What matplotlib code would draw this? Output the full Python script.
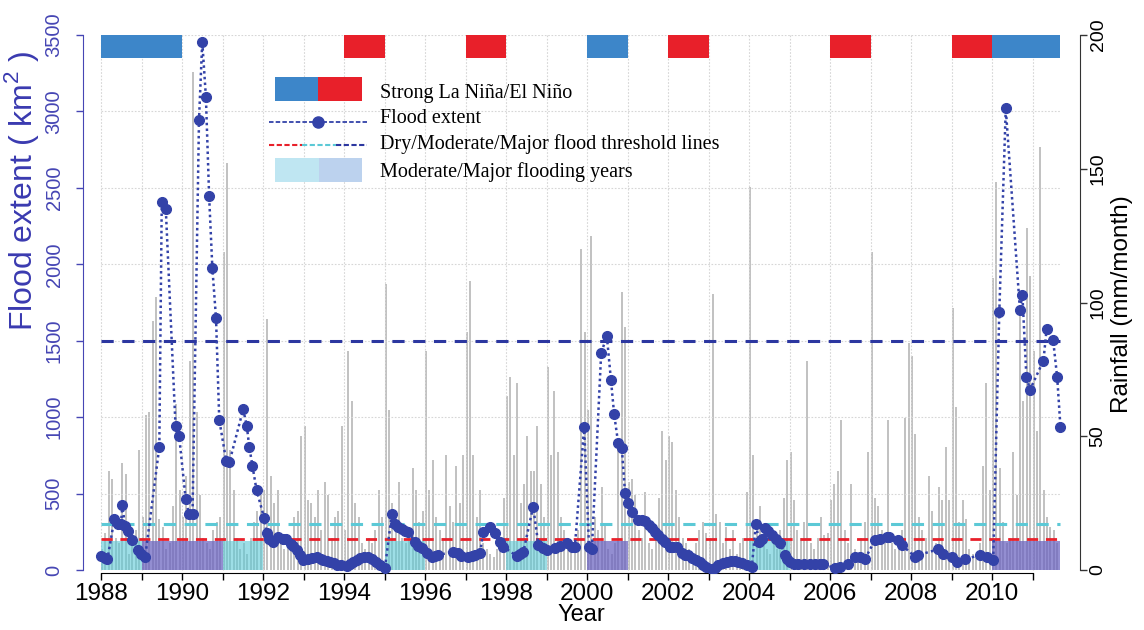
import matplotlib
matplotlib.use('Agg')
import matplotlib.pyplot as plt
import numpy as np

plt.rcParams['font.family'] = 'Liberation Sans'
plt.rcParams['mathtext.fontset'] = 'custom'
plt.rcParams['mathtext.rm'] = 'Liberation Sans'

# monthly rainfall (mm/month), one row per year, Jan 1988 .. Aug 2011
rain_mm = [
    8, 14, 37, 34, 12, 10, 40, 36, 6, 10, 15, 45,        # 1988
    20, 58, 59, 93, 102, 19, 16, 8, 10, 24, 62, 30,      # 1989
    20, 35, 78, 186, 59, 28, 12, 10, 8, 15, 18, 20,      # 1990
    119, 152, 45, 30, 12, 8, 10, 6, 12, 18, 22, 28,      # 1991
    30, 94, 35, 25, 30, 12, 8, 10, 9, 20, 22, 50,        # 1992
    54, 26, 25, 20, 30, 15, 33, 28, 12, 20, 22, 54,      # 1993
    15, 82, 63, 25, 20, 10, 8, 12, 10, 15, 30, 20,       # 1994
    107, 60, 25, 20, 33, 12, 10, 15, 38, 30, 18, 22,     # 1995
    82, 30, 41, 20, 15, 12, 43, 24, 18, 39, 25, 43,      # 1996
    89, 108, 43, 20, 30, 10, 8, 6, 5, 8, 12, 27,         # 1997
    65, 72, 43, 70, 25, 32, 50, 37, 37, 54, 32, 20,      # 1998
    76, 43, 67, 44, 20, 15, 12, 10, 8, 15, 120, 89,      # 1999
    60, 125, 20, 15, 31, 17, 8, 6, 10, 46, 104, 91,      # 2000
    33, 34, 28, 15, 12, 29, 10, 8, 15, 27, 52, 41,       # 2001
    50, 48, 30, 20, 12, 10, 8, 6, 10, 15, 18, 14,        # 2002
    12, 103, 21, 18, 10, 16, 8, 15, 6, 10, 12, 29,       # 2003
    143, 43, 15, 24, 12, 8, 6, 10, 8, 15, 27, 41,        # 2004
    44, 26, 15, 12, 18, 78, 10, 8, 12, 20, 13, 14,       # 2005
    26, 32, 37, 56, 15, 10, 32, 8, 6, 12, 18, 44,        # 2006
    119, 27, 24, 15, 12, 56, 10, 8, 12, 15, 57, 85,      # 2007
    80, 51, 20, 15, 12, 35, 22, 10, 31, 26, 46, 26,      # 2008
    98, 61, 18, 26, 19, 8, 6, 5, 10, 39, 70, 30,         # 2009
    109, 145, 38, 18, 10, 12, 44, 28, 98, 63, 128, 110,  # 2010
    82, 52, 158, 30, 20, 16, 15, 10,                     # 2011
]
rain_start = 1988

# flood extent observations: decimal year and area (km2)
flood_year = [
    1988.00, 1988.09, 1988.16, 1988.33, 1988.41, 1988.49, 1988.53, 1988.59, 1988.67, 1988.76, 1988.91, 1988.99,
    1989.09, 1989.44, 1989.50, 1989.60, 1989.84, 1989.93,
    1990.09, 1990.17, 1990.26, 1990.42, 1990.50, 1990.59, 1990.67, 1990.75, 1990.84, 1990.92,
    1991.09, 1991.17, 1991.51, 1991.60, 1991.66, 1991.74, 1991.84,
    1992.03, 1992.09, 1992.16, 1992.25, 1992.38, 1992.50, 1992.58, 1992.70, 1992.75, 1992.85, 1992.92, 1992.99,
    1993.10, 1993.20, 1993.33, 1993.42, 1993.49, 1993.57, 1993.65, 1993.75, 1993.82, 1993.92,
    1994.07, 1994.15, 1994.23, 1994.32, 1994.40, 1994.50, 1994.60, 1994.70, 1994.80, 1994.90,
    1995.01, 1995.18, 1995.26, 1995.34, 1995.42, 1995.50, 1995.59, 1995.75, 1995.83, 1995.92,
    1996.05, 1996.17, 1996.25, 1996.33, 1996.70, 1996.82, 1996.90,
    1997.07, 1997.15, 1997.23, 1997.36, 1997.44, 1997.60, 1997.73, 1997.85, 1997.93,
    1998.26, 1998.35, 1998.43, 1998.67, 1998.80, 1998.92,
    1999.00, 1999.21, 1999.33, 1999.50, 1999.62, 1999.70, 1999.93,
    2000.05, 2000.12, 2000.35, 2000.49, 2000.59, 2000.67, 2000.77, 2000.86, 2000.94,
    2001.02, 2001.10, 2001.27, 2001.35, 2001.43, 2001.52, 2001.60, 2001.68, 2001.76, 2001.85, 2001.93,
    2002.05, 2002.13, 2002.21, 2002.34, 2002.42, 2002.50, 2002.60, 2002.70, 2002.78, 2002.87, 2002.95,
    2003.08, 2003.16, 2003.24, 2003.35, 2003.45, 2003.55, 2003.65, 2003.74, 2003.82, 2003.95,
    2004.07, 2004.17, 2004.25, 2004.32, 2004.40, 2004.48, 2004.56, 2004.66, 2004.77, 2004.89, 2004.95,
    2005.01, 2005.10, 2005.22, 2005.35, 2005.51, 2005.62, 2005.75, 2005.83,
    2006.12, 2006.25, 2006.45, 2006.62, 2006.74, 2006.86,
    2007.11, 2007.23, 2007.40, 2007.45, 2007.69, 2007.77,
    2008.10, 2008.18, 2008.67, 2008.80,
    2009.00, 2009.13, 2009.33, 2009.70, 2009.87,
    2010.03, 2010.18, 2010.34, 2010.69, 2010.75, 2010.85, 2010.94,
    2011.27, 2011.35, 2011.51, 2011.61, 2011.69,
]
flood_km2 = [
    94, 80, 72, 333, 299, 299, 424, 288, 254, 197, 128, 106,
    83, 805, 2406, 2360, 943, 875,
    465, 367, 367, 2947, 3457, 3095, 2444, 1973, 1647, 982,
    716, 705, 1051, 943, 807, 680, 523,
    340, 240, 200, 185, 214, 205, 200, 170, 157, 131, 100, 65,
    70, 76, 87, 72, 65, 60, 54, 45, 33, 30,
    26, 40, 54, 65, 76, 82, 87, 72, 54, 35,
    11, 366, 301, 280, 266, 255, 251, 185, 160, 142,
    110, 83, 90, 98, 120, 109, 92,
    83, 90, 98, 111, 251, 279, 240, 185, 153,
    92, 105, 120, 414, 164, 142,
    131, 142, 157, 174, 153, 148, 937,
    150, 135, 1420, 1530, 1243, 1020, 829, 796, 502,
    436, 381, 327, 330, 320, 295, 273, 250, 229, 205, 185,
    153, 150, 148, 109, 100, 98, 80, 65, 50, 33, 20,
    5, 15, 33, 45, 54, 58, 61, 55, 48, 30,
    22, 301, 185, 200, 273, 255, 229, 200, 174, 98, 70,
    54, 40, 39, 39, 39, 42, 39, 39,
    13, 20, 39, 83, 87, 70,
    196, 200, 214, 218, 196, 164,
    87, 98, 135, 105,
    87, 54, 70, 98, 87,
    65, 1688, 3020, 1699, 1802, 1260, 1180,
    1370, 1579, 1502, 1260, 937,
]

# flood threshold levels (km2)
dry_level = 200
moderate_level = 300
major_level = 1500

# strong ENSO periods
nina_spans = [(1988, 1990), (2000, 2001), (2010, 2011.67)]
nino_spans = [(1994, 1995), (1997, 1998), (2002, 2003), (2006, 2007), (2009, 2010)]

# flooding years
moderate_spans = [(1988, 1989), (1991, 1992), (1995, 1996), (1998, 1999), (2004, 2005)]
major_spans = [(1989, 1991), (2000, 2001), (2010, 2011.67)]

end_year = 2011.67

blue_axis = '#4646b4'
flood_col = '#3342a8'
nina_col = '#3d86c9'
nino_col = '#e8202a'
cyan_col = '#5cc9d6'
major_col = '#2c37a0'

W, H = 1144, 630
fig = plt.figure(figsize=(W / 100, H / 100), dpi=100)

# axes box in pixels: left spine 83, right spine 1080, top 35, bottom 573
ax = fig.add_axes([83 / W, 1 - 573 / H, (1080 - 83) / W, (573 - 35) / H])
ax2 = ax.twinx()
ax.set_zorder(ax2.get_zorder() + 1)
ax.patch.set_visible(False)

ppy = 40.5
ax.set_xlim(1988 - 18 / ppy, 1988 + (1080 - 101) / ppy)
ax.set_ylim(-3 / 0.15286, 3500)
ax2.set_ylim(-3 / 2.675, 200)

# rainfall bars (right axis)
months = np.arange(len(rain_mm))
ax2.bar(rain_start + months / 12, rain_mm, width=0.05, align='edge',
        color='#c2c2c2', linewidth=0)

# grid
years = np.arange(1988, 2012)
ax.vlines(years, 0, 3500, colors='#d6d6d6', linestyles=(0, (1.5, 1.5)), linewidth=0.8, zorder=1)
ax.hlines(np.arange(500, 3501, 500), 1988, end_year, colors='#d6d6d6',
          linestyles=(0, (1.5, 1.5)), linewidth=0.8, zorder=1)

# flooding-year shading
ax.broken_barh([(a, b - a) for a, b in moderate_spans], (0, 190),
               facecolors=cyan_col, alpha=0.6, linewidth=0, zorder=2)
ax.broken_barh([(a, b - a) for a, b in major_spans], (0, 190),
               facecolors='#6a62c0', alpha=0.72, linewidth=0, zorder=2)

# ENSO strip on top
ax.broken_barh([(a, b - a) for a, b in nina_spans], (3350, 150),
               facecolors=nina_col, linewidth=0, zorder=3)
ax.broken_barh([(a, b - a) for a, b in nino_spans], (3350, 150),
               facecolors=nino_col, linewidth=0, zorder=3)

# threshold lines
ax.hlines(major_level, 1988, end_year, colors=major_col, linestyles=(0, (4, 2.8)), linewidth=2.2, zorder=3)
ax.hlines(moderate_level, 1988, end_year, colors=cyan_col, linestyles=(0, (4, 2.8)), linewidth=2.2, zorder=3)
ax.hlines(dry_level, 1988, end_year, colors=nino_col, linestyles=(0, (4, 2.8)), linewidth=2.0, zorder=3)

# flood extent series
ax.plot(flood_year, flood_km2, color=flood_col, linestyle=(0, (1, 1.3)), linewidth=1.8,
        marker='o', markersize=7, markerfacecolor=flood_col, markeredgecolor=flood_col, zorder=5)

# axes styling
for s in ['top', 'right']:
    ax.spines[s].set_visible(False)
for s in ['top', 'left', 'bottom']:
    ax2.spines[s].set_visible(False)
ax.spines['left'].set_bounds(0, 3500)
ax.spines['left'].set_color(blue_axis)
ax.spines['bottom'].set_bounds(1988, 2011)
ax2.spines['right'].set_bounds(0, 200)
ax2.spines['right'].set_color('#333333')

ax.set_xticks(years)
ax.set_xticklabels([str(y) if y % 2 == 0 else '' for y in years])
ax.tick_params(axis='x', length=5, width=1, labelsize=17.5, pad=2)

yt = np.arange(0, 3501, 500)
ax.set_yticks(yt)
ax.set_yticklabels([str(v) for v in yt], rotation=90, va='center')
ax.tick_params(axis='y', length=5, width=1, color=blue_axis, labelcolor=blue_axis,
               labelsize=14.5, pad=9)

rt = np.arange(0, 201, 50)
ax2.set_yticks(rt)
ax2.set_yticklabels([str(v) for v in rt], rotation=90, va='center')
ax2.tick_params(axis='y', length=5, width=1, color='#333333', labelsize=14, pad=2)

ax.set_xlabel('Year', fontsize=17)
ax.xaxis.set_label_coords(0.5, -0.058)
ax.set_ylabel(r'Flood extent ( km$^2$ )', fontsize=23, color='#3a3ab0')
ax.yaxis.set_label_coords(-0.042, 0.71)
ax2.set_ylabel('Rainfall (mm/month)', fontsize=17.5)
ax2.yaxis.set_label_coords(1.031, 0.5)

# legend drawn in pixel space
lg = fig.add_axes([0, 0, 1, 1], zorder=10)
lg.set_xlim(0, W)
lg.set_ylim(H, 0)
lg.axis('off')
lg.broken_barh([(275, 43)], (77, 24), facecolors=nina_col, linewidth=0)
lg.broken_barh([(318, 44)], (77, 24), facecolors=nino_col, linewidth=0)
lg.plot([269, 367], [122, 122], color=flood_col, linestyle=(0, (2.5, 1.2)), linewidth=1.3)
lg.plot([318], [122], 'o', color=flood_col, markersize=8)
lg.plot([269, 302], [145, 145], color=nino_col, linestyle=(0, (2.5, 1.2)), linewidth=1.5)
lg.plot([302, 336], [145, 145], color=cyan_col, linestyle=(0, (2.5, 1.2)), linewidth=1.5)
lg.plot([336, 367], [145, 145], color=major_col, linestyle=(0, (2.5, 1.2)), linewidth=1.5)
lg.broken_barh([(275, 44)], (158, 24), facecolors='#bfe6f2', linewidth=0)
lg.broken_barh([(319, 43)], (158, 24), facecolors='#bcd2ee', linewidth=0)

legend_labels = ['Strong La Niña/El Niño', 'Flood extent',
                 'Dry/Moderate/Major flood threshold lines', 'Moderate/Major flooding years']
for lab, yb in zip(legend_labels, [98, 123, 149, 177]):
    lg.text(380, yb, lab, fontsize=14.5, family='Liberation Serif', va='baseline', ha='left')

fig.savefig('out.png', dpi=100)
